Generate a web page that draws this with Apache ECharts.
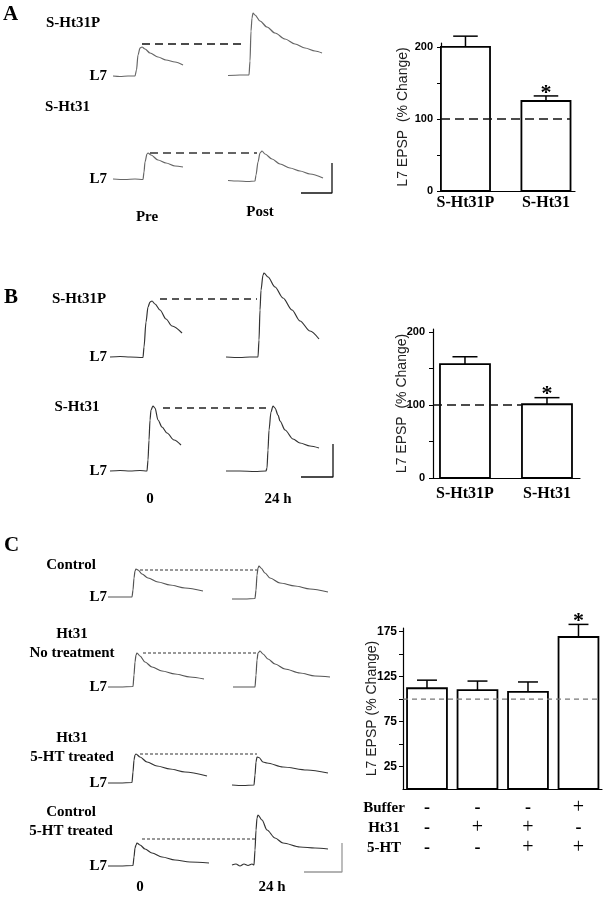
<!DOCTYPE html>
<html><head><meta charset="utf-8">
<script src="https://cdn.jsdelivr.net/npm/echarts@6/dist/echarts.min.js"></script>
<style>html,body{margin:0;padding:0;background:#fff}#c{width:606px;height:899px}</style>
</head><body><div id="c"></div><script>
// ---------- bar chart data ----------
const catsAB = ['S-Ht31P', 'S-Ht31'];
const barA = [200, 125];
const errA = [15, 7];
const sigA = [0, 1];
const barB = [156, 101];
const errB = [10, 9];
const sigB = [0, 1];
const barC = [112, 110, 108, 169];
const errC = [9, 10, 11, 14];
const sigC = [0, 0, 0, 1];
const rowBuffer = ['-', '-', '-', '+'];
const rowHt31 = ['-', '+', '+', '-'];
const row5HT = ['-', '-', '+', '+'];
const tableRows = ['Buffer', 'Ht31', '5-HT'];
const yTicksAB = [0, 50, 100, 150, 200];
const yLabelsAB = [0, 100, 200];
const yTicksC = [25, 50, 75, 100, 125, 150, 175];
const yLabelsC = [25, 75, 125, 175];
const baselinePct = 100;

// ---------- EPSP traces [time, amplitude] ----------
const tA1pre = [[13,0],[20,-0.5],[28,0],[35,0],[36.5,6],[38,21],[40,28],[42,29],[45,27],[50,23],[58,19],[66,16],[75,14],[83,11]];
const tA1post = [[128,0.5],[140,1],[149,1],[150,15],[151,45],[152,58],[153,63],[155,61],[160,55],[167,49],[175,43],[185,37],[195,32],[205,28],[215,25],[222,23]];
const dashA1 = [[42,32],[143,32]];
const tA2pre = [[13,0],[25,-0.5],[35,0],[43,-0.5],[44,7],[45,17],[47,25],[48,26],[51,24],[58,19],[66,16],[75,13],[83,12]];
const tA2post = [[128,-1.5],[138,-2],[148,-2.5],[155,-2],[156,4],[158,17],[160,26],[162,28],[165,25],[172,20],[180,15],[190,11],[200,8],[210,5],[223,1]];
const dashA2 = [[50,26],[157,26]];
const scaleA = [[201,-14],[232,-14],[232,16]];

const tB1pre = [[10,0],[20,0.5],[30,0],[43,-0.5],[44,10],[46,35],[48,50],[50,55],[52,56],[55,53],[60,47],[66,38],[72,31],[82,24]];
const tB1post = [[126,0],[140,-0.5],[150,0],[158,0],[159,17],[160,47],[161,67],[163,82],[164,84],[168,80],[175,70],[183,59],[192,47],[200,36],[210,26],[219,18]];
const dashB1 = [[60,58],[157,58]];
const tB2pre = [[10,0],[20,0.5],[30,0],[40,0.5],[47,0],[48,11],[49,31],[50,51],[51,61],[53,65],[55,63],[58,51],[62,44],[67,38],[74,31],[81,26]];
const tB2post = [[126,0],[140,0],[155,-0.5],[166,0],[167,3],[168,21],[169,41],[171,59],[173,65],[175,63],[178,56],[180,50],[185,41],[193,32],[200,28],[210,25],[219,23]];
const dashB2 = [[63,63],[167,63]];
const scaleB = [[201,-6],[233,-6],[233,27]];

const tC1pre = [[8,0],[20,0],[32,0],[33,7],[34,19],[35,26],[36,28],[38,27],[42,23],[48,19],[58,15],[70,12],[85,9],[103,6]];
const tC1post = [[132,-2],[145,-2],[155,-1.5],[156,7],[157,22],[158,29],[159,31],[161,29],[165,24],[170,19],[180,14],[195,11],[210,8],[228,5]];
const dashC1 = [[40,27],[157,27]];
const tC2pre = [[8,0],[20,0],[33,0.5],[34,12],[35,25],[36,32],[37,34],[40,31],[45,25],[52,20],[62,16],[75,13],[90,10],[104,8]];
const tC2post = [[133,0],[145,0],[155,0],[156,12],[157,27],[158,34],[160,36],[163,33],[168,28],[175,23],[185,18],[200,14],[215,11],[230,10]];
const dashC2 = [[43,34],[158,34]];
const tC3pre = [[8,0],[20,0],[32,0.5],[33,11],[34,23],[35,28],[36,29],[40,26],[47,21],[57,17],[70,14],[85,11],[107,7]];
const tC3post = [[132,-2],[143,-2.5],[154,-2],[155,8],[156,21],[157,26],[159,25.5],[163,21],[167,20],[183,16],[207,13],[228,10]];
const dashC3 = [[40,29],[157,29]];
const tC4pre = [[8,0],[20,0],[33,0.5],[34,9],[35,18],[36,21],[37,23],[40,21],[45,17],[52,13],[62,9],[75,6],[90,4],[109,3]];
const tC4post = [[132,1],[136,2],[140,0],[144,2],[148,0.5],[152,2],[154,1],[155,16],[156,36],[157,48],[158,51],[162,46],[167,36],[175,28],[183,23],[200,19],[215,18],[228,17]];
const dashC4 = [[42,27],[155,27]];
const scaleC = [[204,-6],[242,-6],[242,23]];

// ---------- layout ----------
const SERIF = 'Liberation Serif';
const SANS = 'Liberation Sans';
const rows = [
  {base:76,  pre:tA1pre, post:tA1post, dash:dashA1, col:'#666', dcol:'#111', dtype:[8,5], dw:1.5},
  {base:179, pre:tA2pre, post:tA2post, dash:dashA2, col:'#666', dcol:'#333', dtype:[8,5], dw:1.5, scale:scaleA, scol:'#111'},
  {base:357, pre:tB1pre, post:tB1post, dash:dashB1, col:'#333', dcol:'#222', dtype:[7,5], dw:1.4},
  {base:471, pre:tB2pre, post:tB2post, dash:dashB2, col:'#333', dcol:'#222', dtype:[7,5], dw:1.4, scale:scaleB, scol:'#111'},
  {base:597, pre:tC1pre, post:tC1post, dash:dashC1, col:'#555', dcol:'#333', dtype:[3,2], dw:1.1},
  {base:687, pre:tC2pre, post:tC2post, dash:dashC2, col:'#555', dcol:'#333', dtype:[3,2], dw:1.1},
  {base:783, pre:tC3pre, post:tC3post, dash:dashC3, col:'#333', dcol:'#333', dtype:[3,2], dw:1.1},
  {base:866, pre:tC4pre, post:tC4post, dash:dashC4, col:'#333', dcol:'#333', dtype:[3,2], dw:1.1, scale:scaleC, scol:'#999'}
];

const grid = [], xAxis = [], yAxis = [], series = [];
rows.forEach((r, i) => {
  const ymax = Math.min(100, Math.floor((r.base - 4) / 10) * 10);
  grid.push({left:108, width:242, top:r.base - ymax, height:ymax + 20});
  xAxis.push({type:'value', gridIndex:i, min:8, max:250, show:false});
  yAxis.push({type:'value', gridIndex:i, min:-20, max:ymax, interval:10,
    axisLine:{show:false, onZero:false}, axisTick:{show:false}, splitLine:{show:false},
    axisLabel:{margin:1, formatter:v => v === 0 ? 'L7' : '', color:'#000',
      fontFamily:SERIF, fontWeight:'bold', fontSize:15}});
  const ls = {color:r.col, width:1.2};
  series.push({type:'line', xAxisIndex:i, yAxisIndex:i, data:r.pre, symbol:'none', smooth:0.3, smoothMonotone:'x', lineStyle:ls, silent:true});
  series.push({type:'line', xAxisIndex:i, yAxisIndex:i, data:r.post, symbol:'none', smooth:0.3, smoothMonotone:'x', lineStyle:ls, silent:true});
  series.push({type:'line', xAxisIndex:i, yAxisIndex:i, data:r.dash, symbol:'none', lineStyle:{color:r.dcol, width:r.dw, type:r.dtype}, silent:true});
  if (r.scale) series.push({type:'line', xAxisIndex:i, yAxisIndex:i, data:r.scale, symbol:'none', lineStyle:{color:r.scol, width:1.3}, silent:true});
});

function barRender(bw) {
  return function (params, api) {
    const i = api.value(0), v = api.value(1), e = api.value(2), s = api.value(3);
    const p0 = api.coord([i - bw / 2, 0]);
    const p1 = api.coord([i + bw / 2, v]);
    const tp = api.coord([i, v + e]);
    const cap = api.size([bw * 0.25, 0])[0];
    const ch = [
      {type:'rect', shape:{x:p0[0], y:p1[1], width:p1[0] - p0[0], height:p0[1] - p1[1]},
        style:{fill:'#fff', stroke:'#000', lineWidth:1.8}},
      {type:'line', shape:{x1:tp[0], y1:p1[1], x2:tp[0], y2:tp[1]}, style:{stroke:'#000', lineWidth:1.5}},
      {type:'line', shape:{x1:tp[0] - cap, y1:tp[1], x2:tp[0] + cap, y2:tp[1]}, style:{stroke:'#000', lineWidth:1.5}}
    ];
    if (s) ch.push({type:'text', x:tp[0], y:tp[1] - 3,
      style:{text:'*', fill:'#000', font:'bold 22px "' + SERIF + '"', align:'center', verticalAlign:'middle'}});
    return {type:'group', children:ch};
  };
}

const bars = [
  {vals:barA, errs:errA, sig:sigA, left:441, width:134, top:43, height:148, xmin:-0.304, ppu:80.5, bw:0.61, ymax:205.5,
   ticks:yTicksAB, labels:yLabelsAB, dashEnd:1.305, dcol:'#111', dtype:[9,5], dw:1.5, nameGap:31, name:'L7 EPSP  (% Change)', lsize:11, lmargin:8, cats:catsAB, cmargin:4},
  {vals:barB, errs:errB, sig:sigB, left:433, width:147, top:329, height:149, xmin:-0.39, ppu:82, bw:0.61, ymax:204,
   ticks:yTicksAB, labels:yLabelsAB, dashEnd:0.695, dcol:'#111', dtype:[9,5], dw:1.5, nameGap:24, name:'L7 EPSP  (% Change)', lsize:11, lmargin:8, cats:catsAB, cmargin:8},
  {vals:barC, errs:errC, sig:sigC, left:403, width:199, top:628, height:161, xmin:-0.475, ppu:50.5, bw:0.79, ymax:179,
   ticks:yTicksC, labels:yLabelsC, dashEnd:3.395, dcol:'#777', dtype:[5,4], dw:1.2, nameGap:24, name:'L7 EPSP (% Change)', lsize:12, lmargin:6, table:true, cmargin:9}
];
bars.forEach((b, k) => {
  const gi = rows.length + k;
  const xmax = b.xmin + b.width / b.ppu;
  grid.push({left:b.left, width:b.width, top:b.top, height:b.height});
  const idx = b.vals.map((_, i) => i);
  const xa = {type:'value', gridIndex:gi, min:b.xmin, max:xmax,
    axisLine:{show:true, onZero:false, lineStyle:{color:'#000', width:1.2}}, axisTick:{show:false}, splitLine:{show:false},
    axisLabel:{customValues:idx, margin:b.cmargin, color:'#000'}};
  if (b.table) {
    xa.axisLabel.formatter = v => {
      const i = Math.round(v);
      return [rowBuffer[i], rowHt31[i], row5HT[i]].map(s => s === '+' ? '{p|+}' : '{m|-}').join('\n');
    };
    xa.axisLabel.rich = {
      p:{fontFamily:SERIF, fontSize:20, lineHeight:20, color:'#000'},
      m:{fontFamily:SERIF, fontWeight:'bold', fontSize:18, lineHeight:20, color:'#000'}
    };
    xa.axisLabel.lineHeight = 20;
  } else {
    xa.axisLabel.formatter = v => b.cats[Math.round(v)];
    xa.axisLabel.fontFamily = SERIF; xa.axisLabel.fontWeight = 'bold'; xa.axisLabel.fontSize = 16;
  }
  xAxis.push(xa);
  yAxis.push({type:'value', gridIndex:gi, min:0, max:b.ymax,
    name:b.name, nameLocation:'middle', nameGap:b.nameGap, nameRotate:90, nameMoveOverlap:false,
    nameTextStyle:{fontFamily:SANS, fontSize:14, color:'#222'},
    axisLine:{show:true, onZero:false, lineStyle:{color:'#000', width:1.2}},
    axisTick:{show:true, customValues:b.ticks, length:4, lineStyle:{color:'#000'}},
    splitLine:{show:false},
    axisLabel:{customValues:b.labels, margin:b.lmargin, color:'#000', fontFamily:SANS, fontWeight:'bold', fontSize:b.lsize}});
  series.push({type:'custom', xAxisIndex:gi, yAxisIndex:gi, renderItem:barRender(b.bw), silent:true,
    data:b.vals.map((v, i) => [i, v, b.errs[i], b.sig[i]])});
  series.push({type:'line', xAxisIndex:gi, yAxisIndex:gi, symbol:'none', silent:true, z:5,
    data:[[b.xmin, baselinePct], [b.dashEnd, baselinePct]],
    lineStyle:{color:b.dcol, width:b.dw, type:b.dtype}});
});

function T(text, x, yc, o) {
  o = o || {};
  const lh = o.lh || 18;
  const n = text.split('\n').length;
  return {text:text, left:x, top:yc - lh * n / 2, padding:0, textAlign:o.align || 'left',
    textStyle:{fontFamily:SERIF, fontWeight:'bold', fontSize:o.size || 15, lineHeight:lh, color:'#000'}};
}
const title = [
  T('A', 3, 15, {size:21, lh:22}),
  T('B', 4, 298, {size:21, lh:22}),
  T('C', 4, 546, {size:21, lh:22}),
  T('S-Ht31P', 46, 23),
  T('S-Ht31', 45, 107),
  T('Pre', 147, 217, {align:'center'}),
  T('Post', 260, 212, {align:'center'}),
  T('S-Ht31P', 79, 299, {align:'center'}),
  T('S-Ht31', 77, 407, {align:'center'}),
  T('0', 150, 499, {align:'center'}),
  T('24 h', 278, 499, {align:'center'}),
  T('Control', 71, 565, {align:'center'}),
  T('Ht31\nNo treatment', 72, 643.5, {align:'center', lh:19}),
  T('Ht31\n5-HT treated', 72, 747.5, {align:'center', lh:19}),
  T('Control\n5-HT treated', 71, 821.5, {align:'center', lh:19}),
  T('0', 140, 887, {align:'center'}),
  T('24 h', 272, 887, {align:'center'}),
  T(tableRows.join('\n'), 384, 828, {align:'center', lh:20})
];

const chart = echarts.init(document.getElementById('c'), null, {renderer:'canvas'});
chart.setOption({animation:false, backgroundColor:'#fff', title, grid, xAxis, yAxis, series});
</script></body></html>
